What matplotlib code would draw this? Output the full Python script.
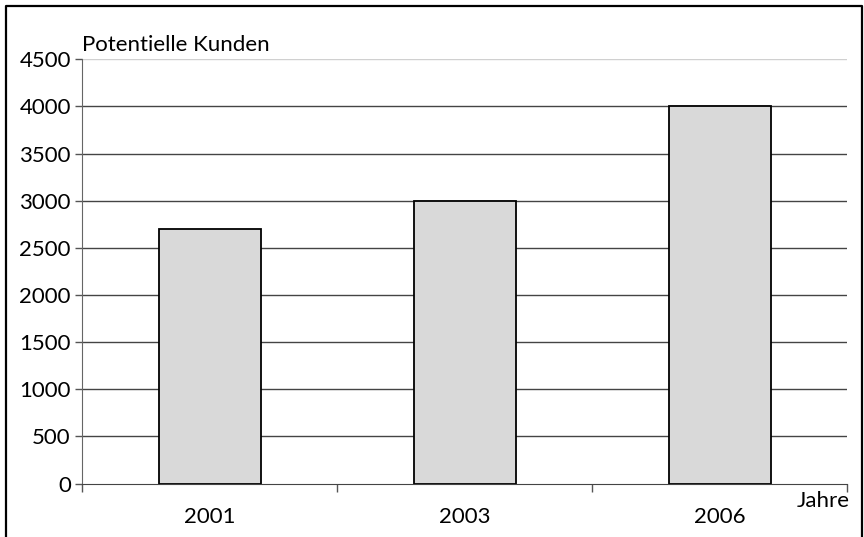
import matplotlib.pyplot as plt
import numpy as np

years = ["2001", "2003", "2006"]
kunden = [2700, 3000, 4000]
y_ticks = [0, 500, 1000, 1500, 2000, 2500, 3000, 3500, 4000, 4500]

plt.rcParams['font.family'] = ['Lato', 'DejaVu Sans']
FS = 16

fig = plt.figure(figsize=(8.64, 5.37), dpi=100)
ax = fig.add_axes([82 / 864, 1 - 483.5 / 537, (847 - 82) / 864, (483.5 - 59.3) / 537])

x = np.arange(len(years))
ax.bar(x, kunden, width=0.4, color='#d9d9d9', edgecolor='black', linewidth=1.3, zorder=3)

ax.set_xlim(-0.5, len(years) - 0.5)
ax.set_ylim(0, 4500)
ax.set_yticks(y_ticks)
ax.set_yticklabels([str(v) for v in y_ticks], fontsize=FS)

# gridlines: dark, the top one light
for v in y_ticks[1:]:
    col = '#d0d0d0' if v == 4500 else '#444444'
    ax.axhline(v, color=col, linewidth=1.0, zorder=1)

# category labels in the middle, ticks at the boundaries
ax.set_xticks(np.arange(-0.5, len(years), 1.0))
ax.set_xticklabels([])
ax.set_xticks(x, minor=True)
ax.set_xticklabels(years, minor=True, fontsize=FS)
ax.tick_params(axis='x', which='minor', length=0, pad=17)
ax.tick_params(axis='x', which='major', length=6, width=1, color='#555555', direction='out')
ax.tick_params(axis='y', length=5, width=1, color='#555555', pad=3)

for s in ['top', 'right']:
    ax.spines[s].set_visible(False)
ax.spines['left'].set_color('#666666')
ax.spines['bottom'].set_color('#444444')
ax.spines['bottom'].set_zorder(4)

ax.text(0, 1.01, "Potentielle Kunden", transform=ax.transAxes, fontsize=FS,
        ha='left', va='bottom')
ax.text(850 / 864, 1 - 491 / 537, "Jahre", transform=fig.transFigure, fontsize=FS,
        ha='right', va='top')

# outer frame (no bottom edge)
frame_x = [6 / 864, 6 / 864, 862 / 864, 862 / 864]
frame_y = [0, 1 - 6 / 537, 1 - 6 / 537, 0]
fig.add_artist(plt.Line2D(frame_x, frame_y, color='black', linewidth=1.6,
                          transform=fig.transFigure))

fig.savefig("out.png", dpi=100)
